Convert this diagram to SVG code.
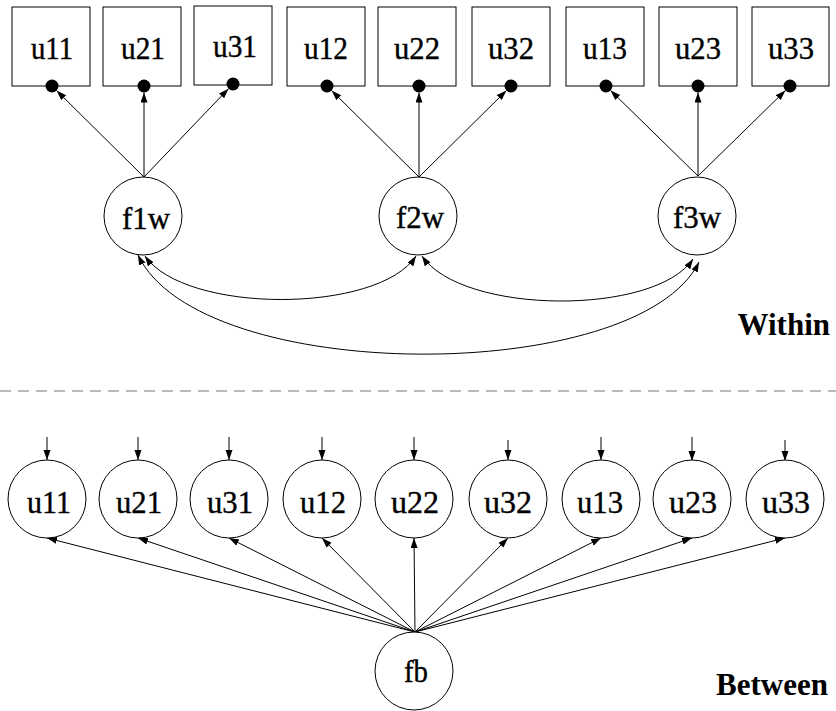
<svg xmlns="http://www.w3.org/2000/svg" width="836" height="711" viewBox="0 0 836 711">
<style>
.box{fill:#fff;stroke:#000;stroke-width:1}
.circ{fill:#fff;stroke:#000;stroke-width:1}
.lbl{font-family:"Liberation Serif","Times New Roman",serif;font-size:32px;fill:#000;stroke:#000;stroke-width:0.4;text-anchor:middle}
.ttl{font-family:"Liberation Serif","Times New Roman",serif;font-size:31px;font-weight:bold;fill:#000;text-anchor:end}
.ln{fill:none;stroke:#000;stroke-width:1}
.dot{fill:#000}
</style>
<defs>
<marker id="ah" markerUnits="userSpaceOnUse" markerWidth="11" markerHeight="8" refX="10" refY="3.5" orient="auto-start-reverse">
<path d="M0,0 L10,3.5 L0,7 z" fill="#000"/>
</marker>
</defs>
<rect width="836" height="711" fill="#fff"/>
<g id="connectors">
<line class="ln" x1="144" y1="177" x2="56.6" y2="90.6" marker-end="url(#ah)"/>
<line class="ln" x1="144" y1="177" x2="144" y2="92.5" marker-end="url(#ah)"/>
<line class="ln" x1="144" y1="177" x2="228.5" y2="88.7" marker-end="url(#ah)"/>
<line class="ln" x1="419" y1="177" x2="331.6" y2="90.6" marker-end="url(#ah)"/>
<line class="ln" x1="419" y1="177" x2="419" y2="92.5" marker-end="url(#ah)"/>
<line class="ln" x1="419" y1="177" x2="506.4" y2="90.6" marker-end="url(#ah)"/>
<line class="ln" x1="698" y1="176" x2="610.6" y2="90.5" marker-end="url(#ah)"/>
<line class="ln" x1="698" y1="176" x2="698" y2="92.5" marker-end="url(#ah)"/>
<line class="ln" x1="698" y1="176" x2="785.4" y2="90.5" marker-end="url(#ah)"/>
<path class="ln" d="M145,256 C185,314 378,314 416,256" marker-start="url(#ah)" marker-end="url(#ah)"/>
<path class="ln" d="M422,256 C462,315 655,316 693,259" marker-start="url(#ah)" marker-end="url(#ah)"/>
<path class="ln" d="M138,255 C200,386 638,386 699,262" marker-start="url(#ah)" marker-end="url(#ah)"/>
<line x1="0" y1="391" x2="836" y2="391" stroke="#777" stroke-width="1.2" stroke-dasharray="11 7"/>
<line class="ln" x1="47" y1="437" x2="47" y2="460" marker-end="url(#ah)"/>
<line class="ln" x1="138" y1="437" x2="138" y2="460" marker-end="url(#ah)"/>
<line class="ln" x1="229" y1="437" x2="229" y2="460" marker-end="url(#ah)"/>
<line class="ln" x1="322" y1="437" x2="322" y2="460" marker-end="url(#ah)"/>
<line class="ln" x1="414" y1="437" x2="414" y2="460" marker-end="url(#ah)"/>
<line class="ln" x1="508" y1="440" x2="508" y2="460" marker-end="url(#ah)"/>
<line class="ln" x1="601" y1="437" x2="601" y2="460" marker-end="url(#ah)"/>
<line class="ln" x1="692" y1="437" x2="692" y2="461" marker-end="url(#ah)"/>
<line class="ln" x1="785" y1="440" x2="785" y2="461" marker-end="url(#ah)"/>
<line class="ln" x1="415" y1="632" x2="47" y2="538" marker-end="url(#ah)"/>
<line class="ln" x1="415" y1="632" x2="138" y2="538" marker-end="url(#ah)"/>
<line class="ln" x1="415" y1="632" x2="229" y2="538" marker-end="url(#ah)"/>
<line class="ln" x1="415" y1="632" x2="322" y2="538" marker-end="url(#ah)"/>
<line class="ln" x1="415" y1="632" x2="414" y2="538" marker-end="url(#ah)"/>
<line class="ln" x1="415" y1="632" x2="508" y2="538" marker-end="url(#ah)"/>
<line class="ln" x1="415" y1="632" x2="601" y2="538" marker-end="url(#ah)"/>
<line class="ln" x1="415" y1="632" x2="692" y2="538" marker-end="url(#ah)"/>
<line class="ln" x1="415" y1="632" x2="785" y2="538" marker-end="url(#ah)"/>
</g>
<g id="w_u11"><rect class="box" x="12" y="7" width="78" height="79"/><text class="lbl" x="52" y="59" textLength="42" lengthAdjust="spacingAndGlyphs">u11</text><circle class="dot" cx="52" cy="86" r="6.5"/></g>
<g id="w_u21"><rect class="box" x="103" y="7" width="78" height="79"/><text class="lbl" x="143" y="59" textLength="44" lengthAdjust="spacingAndGlyphs">u21</text><circle class="dot" cx="144" cy="86" r="6.5"/></g>
<g id="w_u31"><rect class="box" x="194" y="6" width="78" height="79"/><text class="lbl" x="235" y="57" textLength="44" lengthAdjust="spacingAndGlyphs">u31</text><circle class="dot" cx="233" cy="84" r="6.5"/></g>
<g id="w_u12"><rect class="box" x="287" y="7" width="78" height="79"/><text class="lbl" x="326" y="59" textLength="44" lengthAdjust="spacingAndGlyphs">u12</text><circle class="dot" cx="327" cy="86" r="6.5"/></g>
<g id="w_u22"><rect class="box" x="378" y="7" width="78" height="79"/><text class="lbl" x="417" y="59" textLength="46" lengthAdjust="spacingAndGlyphs">u22</text><circle class="dot" cx="419" cy="86" r="6.5"/></g>
<g id="w_u32"><rect class="box" x="472" y="7" width="78" height="79"/><text class="lbl" x="511" y="59" textLength="46" lengthAdjust="spacingAndGlyphs">u32</text><circle class="dot" cx="511" cy="86" r="6.5"/></g>
<g id="w_u13"><rect class="box" x="566" y="7" width="78" height="79"/><text class="lbl" x="605" y="59" textLength="44" lengthAdjust="spacingAndGlyphs">u13</text><circle class="dot" cx="606" cy="86" r="6.5"/></g>
<g id="w_u23"><rect class="box" x="659" y="7" width="78" height="79"/><text class="lbl" x="698" y="59" textLength="46" lengthAdjust="spacingAndGlyphs">u23</text><circle class="dot" cx="698" cy="86" r="6.5"/></g>
<g id="w_u33"><rect class="box" x="752" y="7" width="77" height="79"/><text class="lbl" x="791" y="59" textLength="46" lengthAdjust="spacingAndGlyphs">u33</text><circle class="dot" cx="790" cy="86" r="6.5"/></g>
<g id="f1w"><circle class="circ" cx="143" cy="216" r="39"/><text class="lbl" x="146" y="229" textLength="48" lengthAdjust="spacingAndGlyphs">f1w</text></g>
<g id="f2w"><circle class="circ" cx="418" cy="216" r="39"/><text class="lbl" x="420" y="228" textLength="48" lengthAdjust="spacingAndGlyphs">f2w</text></g>
<g id="f3w"><circle class="circ" cx="697" cy="216" r="39"/><text class="lbl" x="697" y="228" textLength="48" lengthAdjust="spacingAndGlyphs">f3w</text></g>
<g id="b_u11"><circle class="circ" cx="47" cy="499" r="39"/><text class="lbl" x="49" y="513" textLength="44" lengthAdjust="spacingAndGlyphs">u11</text></g>
<g id="b_u21"><circle class="circ" cx="138" cy="499" r="39"/><text class="lbl" x="139" y="513" textLength="46" lengthAdjust="spacingAndGlyphs">u21</text></g>
<g id="b_u31"><circle class="circ" cx="229" cy="499" r="39"/><text class="lbl" x="230" y="513" textLength="46" lengthAdjust="spacingAndGlyphs">u31</text></g>
<g id="b_u12"><circle class="circ" cx="322" cy="499" r="39"/><text class="lbl" x="323" y="513" textLength="46" lengthAdjust="spacingAndGlyphs">u12</text></g>
<g id="b_u22"><circle class="circ" cx="414" cy="499" r="39"/><text class="lbl" x="415" y="513" textLength="48" lengthAdjust="spacingAndGlyphs">u22</text></g>
<g id="b_u32"><circle class="circ" cx="508" cy="499" r="39"/><text class="lbl" x="508" y="513" textLength="48" lengthAdjust="spacingAndGlyphs">u32</text></g>
<g id="b_u13"><circle class="circ" cx="601" cy="499" r="39"/><text class="lbl" x="600" y="513" textLength="46" lengthAdjust="spacingAndGlyphs">u13</text></g>
<g id="b_u23"><circle class="circ" cx="692" cy="499" r="39"/><text class="lbl" x="693" y="513" textLength="48" lengthAdjust="spacingAndGlyphs">u23</text></g>
<g id="b_u33"><circle class="circ" cx="785" cy="499" r="39"/><text class="lbl" x="786" y="513" textLength="48" lengthAdjust="spacingAndGlyphs">u33</text></g>
<g id="fb"><circle class="circ" cx="414" cy="671" r="39"/><text class="lbl" x="416" y="682" textLength="24" lengthAdjust="spacingAndGlyphs">fb</text></g>
<g id="titles"><text class="ttl" x="830" y="335">Within</text><text class="ttl" x="828" y="695">Between</text></g>
</svg>
